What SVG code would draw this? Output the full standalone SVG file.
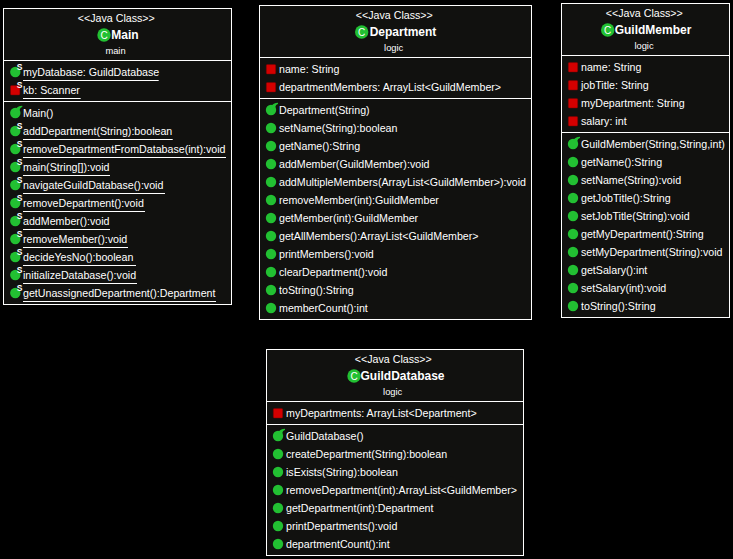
<svg xmlns="http://www.w3.org/2000/svg" width="733" height="559" viewBox="0 0 733 559">
<style>
text{font-family:"Liberation Sans",Arial,sans-serif;font-size:10.67px;fill:#fff}
.st{text-anchor:middle}
.pk{text-anchor:middle;font-size:9.33px}
.nm{text-anchor:middle;font-size:12px;font-weight:bold}
.s{font-size:8.5px;font-weight:bold}
.c{text-anchor:middle;font-size:10px}
.box{fill:#11110f;stroke:#fff;stroke-width:1}
.div,.u{stroke:#fff;stroke-width:1;fill:none}
</style>
<defs>
<g id="pub"><circle cx="0" cy="0" r="5.2" fill="#22c032"/></g>
<g id="priv"><rect x="-4.7" y="-4.7" width="9.4" height="9.4" rx="1" fill="#d40000" stroke="#7a0000" stroke-width="0.5"/></g>
<g id="ctor"><circle cx="0" cy="0" r="5.2" fill="#22c032"/><path d="M0.5 -4Q2 -7 7 -7.2L7 -6Q4.5 -5.5 4.2 -2Z" fill="#22c032"/></g>
<g id="cls"><circle cx="0" cy="0" r="6.7" fill="#22c032"/></g>
</defs>
<rect width="733" height="559" fill="#000"/>
<g id="main">
<rect class="box" x="3.5" y="8.5" width="228" height="296"/>
<path class="div" d="M4 60.5H231M4 101.5H231"/>
<text class="st" x="116.3" y="22">&lt;&lt;Java Class&gt;&gt;</text>
<use href="#cls" x="104" y="35"/><text x="104" y="38.6" class="c">C</text>
<text class="nm" x="125" y="39">Main</text>
<text class="pk" x="115.5" y="54">main</text>
<use href="#pub" x="15.3" y="72"/><text class="s" x="16.8" y="70">S</text><text x="23" y="76">myDatabase: GuildDatabase</text><path class="u" d="M23 80.5H158.7"/>
<use href="#priv" x="15.2" y="90.3"/><text class="s" x="16.8" y="88">S</text><text x="23" y="94">kb: Scanner</text><path class="u" d="M23 98.5H80.7"/>
<use href="#ctor" x="15.3" y="113"/><text x="23" y="117">Main()</text>
<use href="#pub" x="15.3" y="131"/><text class="s" x="16.8" y="129">S</text><text x="23" y="135">addDepartment(String):boolean</text><path class="u" d="M23 139.5H172.7"/>
<use href="#pub" x="15.3" y="149"/><text class="s" x="16.8" y="147">S</text><text x="23" y="153">removeDepartmentFromDatabase(int):void</text><path class="u" d="M23 157.5H226"/>
<use href="#pub" x="15.3" y="167"/><text class="s" x="16.8" y="165">S</text><text x="23" y="171">main(String[]):void</text><path class="u" d="M23 175.5H110"/>
<use href="#pub" x="15.3" y="185"/><text class="s" x="16.8" y="183">S</text><text x="23" y="189">navigateGuildDatabase():void</text><path class="u" d="M23 193.5H165"/>
<use href="#pub" x="15.3" y="203"/><text class="s" x="16.8" y="201">S</text><text x="23" y="207">removeDepartment():void</text><path class="u" d="M23 211.5H145"/>
<use href="#pub" x="15.3" y="221"/><text class="s" x="16.8" y="219">S</text><text x="23" y="225">addMember():void</text><path class="u" d="M23 229.5H110"/>
<use href="#pub" x="15.3" y="239"/><text class="s" x="16.8" y="237">S</text><text x="23" y="243">removeMember():void</text><path class="u" d="M23 247.5H128"/>
<use href="#pub" x="15.3" y="257"/><text class="s" x="16.8" y="255">S</text><text x="23" y="261">decideYesNo():boolean</text><path class="u" d="M23 265.5H136"/>
<use href="#pub" x="15.3" y="275"/><text class="s" x="16.8" y="273">S</text><text x="23" y="279">initializeDatabase():void</text><path class="u" d="M23 283.5H137"/>
<use href="#pub" x="15.3" y="293"/><text class="s" x="16.8" y="291">S</text><text x="23" y="297">getUnassignedDepartment():Department</text><path class="u" d="M23 301.5H216"/>
</g>
<g id="department">
<rect class="box" x="259.5" y="5.5" width="272" height="314"/>
<path class="div" d="M260 57.5H531M260 98.5H531"/>
<text class="st" x="394.3" y="19">&lt;&lt;Java Class&gt;&gt;</text>
<use href="#cls" x="361.7" y="32"/><text x="361.7" y="35.6" class="c">C</text>
<text class="nm" x="403" y="36">Department</text>
<text class="pk" x="393.7" y="51">logic</text>
<use href="#priv" x="271" y="69.3"/><text x="279" y="73">name: String</text>
<use href="#priv" x="271" y="87.3"/><text x="279" y="91">departmentMembers: ArrayList&lt;GuildMember&gt;</text>
<use href="#ctor" x="271" y="110"/><text x="279" y="114">Department(String)</text>
<use href="#pub" x="271" y="128"/><text x="279" y="132">setName(String):boolean</text>
<use href="#pub" x="271" y="146"/><text x="279" y="150">getName():String</text>
<use href="#pub" x="271" y="164"/><text x="279" y="168">addMember(GuildMember):void</text>
<use href="#pub" x="271" y="182"/><text x="279" y="186">addMultipleMembers(ArrayList&lt;GuildMember&gt;):void</text>
<use href="#pub" x="271" y="200"/><text x="279" y="204">removeMember(int):GuildMember</text>
<use href="#pub" x="271" y="218"/><text x="279" y="222">getMember(int):GuildMember</text>
<use href="#pub" x="271" y="236"/><text x="279" y="240">getAllMembers():ArrayList&lt;GuildMember&gt;</text>
<use href="#pub" x="271" y="254"/><text x="279" y="258">printMembers():void</text>
<use href="#pub" x="271" y="272"/><text x="279" y="276">clearDepartment():void</text>
<use href="#pub" x="271" y="290"/><text x="279" y="294">toString():String</text>
<use href="#pub" x="271" y="308"/><text x="279" y="312">memberCount():int</text>
</g>
<g id="guildmember">
<rect class="box" x="561.5" y="3.5" width="168" height="314"/>
<path class="div" d="M562 55.5H729M562 132.5H729"/>
<text class="st" x="644.3" y="17">&lt;&lt;Java Class&gt;&gt;</text>
<use href="#cls" x="607.7" y="30"/><text x="607.7" y="33.6" class="c">C</text>
<text class="nm" x="653" y="34">GuildMember</text>
<text class="pk" x="644" y="49">logic</text>
<use href="#priv" x="573" y="67.3"/><text x="581" y="71">name: String</text>
<use href="#priv" x="573" y="85.3"/><text x="581" y="89">jobTitle: String</text>
<use href="#priv" x="573" y="103.3"/><text x="581" y="107">myDepartment: String</text>
<use href="#priv" x="573" y="121.3"/><text x="581" y="125">salary: int</text>
<use href="#ctor" x="573" y="144"/><text x="581" y="148">GuildMember(String,String,int)</text>
<use href="#pub" x="573" y="162"/><text x="581" y="166">getName():String</text>
<use href="#pub" x="573" y="180"/><text x="581" y="184">setName(String):void</text>
<use href="#pub" x="573" y="198"/><text x="581" y="202">getJobTitle():String</text>
<use href="#pub" x="573" y="216"/><text x="581" y="220">setJobTitle(String):void</text>
<use href="#pub" x="573" y="234"/><text x="581" y="238">getMyDepartment():String</text>
<use href="#pub" x="573" y="252"/><text x="581" y="256">setMyDepartment(String):void</text>
<use href="#pub" x="573" y="270"/><text x="581" y="274">getSalary():int</text>
<use href="#pub" x="573" y="288"/><text x="581" y="292">setSalary(int):void</text>
<use href="#pub" x="573" y="306"/><text x="581" y="310">toString():String</text>
</g>
<g id="guilddatabase">
<rect class="box" x="266.5" y="349.5" width="257" height="206"/>
<path class="div" d="M267 401.5H523M267 424.5H523"/>
<text class="st" x="393.3" y="363">&lt;&lt;Java Class&gt;&gt;</text>
<use href="#cls" x="354" y="376"/><text x="354" y="379.6" class="c">C</text>
<text class="nm" x="402.5" y="380">GuildDatabase</text>
<text class="pk" x="392.7" y="395">logic</text>
<use href="#priv" x="278" y="413.3"/><text x="286" y="417">myDepartments: ArrayList&lt;Department&gt;</text>
<use href="#ctor" x="278" y="436"/><text x="286" y="440">GuildDatabase()</text>
<use href="#pub" x="278" y="454"/><text x="286" y="458">createDepartment(String):boolean</text>
<use href="#pub" x="278" y="472"/><text x="286" y="476">isExists(String):boolean</text>
<use href="#pub" x="278" y="490"/><text x="286" y="494">removeDepartment(int):ArrayList&lt;GuildMember&gt;</text>
<use href="#pub" x="278" y="508"/><text x="286" y="512">getDepartment(int):Department</text>
<use href="#pub" x="278" y="526"/><text x="286" y="530">printDepartments():void</text>
<use href="#pub" x="278" y="544"/><text x="286" y="548">departmentCount():int</text>
</g>
<g id="connectors"/>
</svg>
